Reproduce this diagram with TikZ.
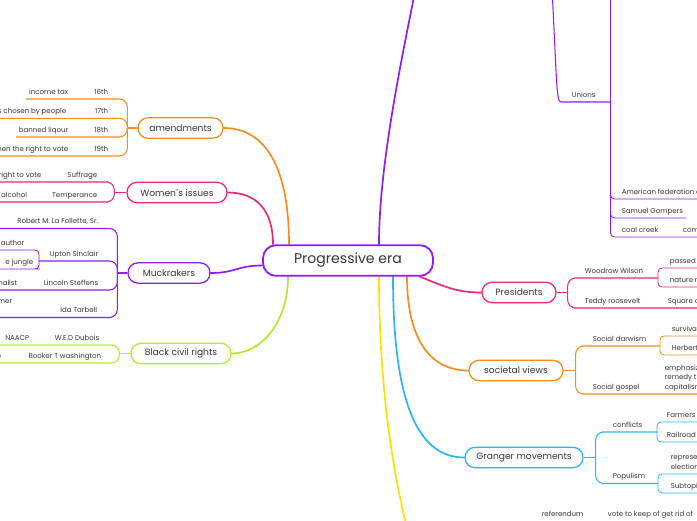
\documentclass[tikz,border=0pt]{standalone}
\usepackage{fontspec}
\setmainfont{Poppins}
\usetikzlibrary{positioning,backgrounds}
\definecolor{mmInk}   {HTML}{363636}
\definecolor{mmPurple}{HTML}{8E1CF5}
\definecolor{mmOrange}{HTML}{F98B1F}
\definecolor{mmPink}  {HTML}{EE2677}
\definecolor{mmLime}  {HTML}{B2EA2E}
\definecolor{mmCyan}  {HTML}{2BB5F2}
\definecolor{mmYellow}{HTML}{FFE100}

\begin{document}
\begin{tikzpicture}[x=0.5mm,y=-0.5mm,
      root/.style={draw=mmPurple,fill=white,line width=2.6pt,rounded corners=6.5mm,
                   minimum width=85mm,minimum height=15.3mm,text=mmInk,
                   font=\fontsize{20}{24}\selectfont},
      topic/.style={draw,fill=white,line width=1.8pt,rounded corners=5mm,
                    minimum height=10.2mm,text=mmInk,font=\fontsize{13}{16}\selectfont},
      leaf/.style={text=mmInk,font=\fontsize{10}{13.5}\selectfont,inner xsep=4pt,
                   inner ysep=2pt,text height=7pt,text depth=5pt,outer sep=0pt},
      conn/.style={line width=2.4pt,line cap=round},
      twig/.style={line width=1.5pt,rounded corners=4mm},
      sprig/.style={line width=1.2pt,rounded corners=2mm}]

    \useasboundingbox (0,0) rectangle (697,520);
    \clip (0,0) rectangle (697,520);
    \coordinate (ledge) at (-20,0);
    \coordinate (redge) at (720,0);

    % ROOT — the era in the middle
    \node[root] (root) at (348,260.5) {Progressive era};

    % AMENDMENTS — four of them, with what each one did
    \node[topic,draw=mmOrange,minimum width=42.5mm] (am) at (180.5,128) {amendments};
    \coordinate (am-j) at ([xshift=-5mm]am.west);
    \node[leaf,anchor=south east] (a16) at (111,99) {16th};
    \node[leaf,anchor=south east] (a17) at (111,118.3) {17th};
    \node[leaf,anchor=south east] (a18) at (111,137) {18th};
    \node[leaf,anchor=south east] (a19) at (111,156) {19th};
    \node[leaf,anchor=south east] (g16) at (71,99) {income tax};
    \node[leaf,anchor=south east] (g17) at (69,118.3) {rs chosen by people};
    \node[leaf,anchor=south east] (g18) at (71,137) {banned liqour};
    \node[leaf,anchor=south east] (g19) at (71,156) {men the right to vote};

    % WOMEN — two causes
    \node[topic,draw=mmPink,minimum width=50mm] (wi) at (177,192.5) {Women´s issues};
    \coordinate (wi-j) at ([xshift=-6mm]wi.west);
    \node[leaf,anchor=south east] (su) at (100,182) {Suffrage};
    \node[leaf,anchor=south east] (te) at (100,202) {Temperance};
    \node[leaf,anchor=south east] (rv) at (44,182) {right to vote};
    \node[leaf,anchor=south east] (al) at (30,202) {alcohol};

    % MUCKRAKERS — the writers
    \node[topic,draw=mmPurple,minimum width=41mm] (mu) at (169,273) {Muckrakers};
    \coordinate (mu-j) at ([xshift=-5mm]mu.west);
    \node[leaf,anchor=south east] (rf) at (101,228.5) {Robert M. La Follette, Sr.};
    \node[leaf,anchor=south east] (us) at (101,261) {Upton Sinclair};
    \node[leaf,anchor=south east] (ls) at (101,290) {Lincoln Steffens};
    \node[leaf,anchor=south east] (it) at (100,317.5) {Ida Tarbell};
    \coordinate (us-j) at (39,261);
    \node[leaf,anchor=south east] (au) at (27,250) {author};
    \node[leaf,anchor=south east] (jg) at (36,269) {e jungle};
    \node[leaf,anchor=south east] (jn) at (20,290) {nalist};
    \node[leaf,anchor=south east,text depth=18pt] (mr) at (15,317.5) {mer};

    % CIVIL RIGHTS
    \node[topic,draw=mmLime,minimum width=50mm] (bc) at (181,353.5) {Black civil rights};
    \coordinate (bc-j) at ([xshift=-5.5mm]bc.west);
    \node[leaf,anchor=south east] (du) at (102,345) {W.E.D Dubois};
    \node[leaf,anchor=south east] (bw) at (104,363) {Booker T washington};
    \node[leaf,anchor=south east] (na) at (32,345) {NAACP};
    \node[leaf,anchor=south east] (bx) at (4,363) {e};

    % UNIONS — hanging off a branch above the page
    \coordinate (lb-top) at (551,-30);
    \coordinate (lb-end) at (430,-80);
    \node[leaf,anchor=south west] (un) at (569,102) {Unions};
    \coordinate (un-j) at (610.5,102);
    \coordinate (un-top) at (610.5,-30);
    \node[leaf,anchor=south west] (af) at (619,199) {American federation o};
    \node[leaf,anchor=south west] (sg) at (619,218) {Samuel Gompers};
    \node[leaf,anchor=south west] (cc) at (619,237) {coal creek};
    \node[leaf,anchor=south west] (cm) at (680,237) {com};

    % PRESIDENTS
    \node[topic,draw=mmPink,minimum width=37mm] (pr) at (519,292.5) {Presidents};
    \coordinate (pr-j) at ([xshift=5.5mm]pr.east);
    \node[leaf,anchor=south west] (ww) at (582,278) {Woodrow Wilson};
    \node[leaf,anchor=south west] (tr) at (582,308) {Teddy roosevelt};
    \coordinate (ww-j) at (658,278);
    \node[leaf,anchor=south west] (pt) at (667,268) {passed t};
    \node[leaf,anchor=south west] (nm) at (667,287) {nature m};
    \node[leaf,anchor=south west] (sq) at (665,308) {Square d};

    % SOCIETAL VIEWS
    \node[topic,draw=mmOrange,minimum width=47mm] (sv) at (516,370.5) {societal views};
    \coordinate (sv-j) at ([xshift=6mm]sv.east);
    \node[leaf,anchor=south west] (sd) at (590,346) {Social darwism};
    \node[leaf,anchor=south west] (sp) at (590,394) {Social gospel};
    \coordinate (sd-j) at (660,346);
    \node[leaf,anchor=south west] (sf) at (669,336) {surviva};
    \node[leaf,anchor=south west] (hs) at (669,355) {Herbert};
    \node[leaf,anchor=south west,align=left] (em) at (662,394) {emphasiz\\remedy th\\capitalism};

    % GRANGER
    \node[topic,draw=mmCyan,minimum width=59mm] (gm) at (524,457.5) {Granger movements};
    \coordinate (gm-j) at ([xshift=6mm]gm.east);
    \node[leaf,anchor=south west] (cf) at (610,432) {conflicts};
    \node[leaf,anchor=south west] (po) at (610,483.5) {Populism};
    \coordinate (cf-j) at (657,432);
    \coordinate (po-j) at (658,483.5);
    \node[leaf,anchor=south west] (fa) at (664,422) {Farmers};
    \node[leaf,anchor=south west] (rr) at (664,442) {Railroad};
    \node[leaf,anchor=south west,align=left] (re) at (668,474) {represe\\election};
    \node[leaf,anchor=south west] (sb) at (668,493) {Subtopi};

    % the yellow branch runs off the bottom edge
    \coordinate (yl-end) at (430,600);
    \node[leaf,anchor=south west] (rd) at (539,521.5) {referendum};
    \node[leaf,anchor=south west] (vk) at (605,521.5) {vote to keep of get rid of};

    \begin{pgfonlayer}{background}
      \fill[white] (0,0) rectangle (697,520);
      % root to topics
      \draw[conn,mmOrange] ([xshift=-29.5mm]root.north) .. controls +(0,-80) and +(40,0) .. (am.east);
      \draw[conn,mmPink] ([xshift=-37.5mm]root.north) .. controls +(0,-35) and +(28,0) .. (wi.east);
      \draw[conn,mmPurple] ([yshift=-2.5mm]root.west) .. controls +(-25,0) and +(25,0) .. (mu.east);
      \draw[conn,mmLime] ([xshift=-30mm]root.south) .. controls +(0,45) and +(30,0) .. (bc.east);
      \draw[conn,mmPurple] ([xshift=15.5mm]root.north) .. controls +(0,-85) and +(-25,120) .. (lb-end);
      \draw[conn,mmPink] ([xshift=36mm]root.south) .. controls +(25,10) and +(-25,0) .. (pr.west);
      \draw[conn,mmOrange] ([xshift=29.5mm]root.south) .. controls +(0,60) and +(-40,0) .. (sv.west);
      \draw[conn,mmCyan] ([xshift=22.5mm]root.south) .. controls +(0,130) and +(-45,0) .. (gm.west);
      \draw[conn,mmYellow] ([xshift=15.5mm]root.south) .. controls +(0,150) and +(-25,-60) .. (yl-end);

      % amendments
      \draw[twig,mmOrange] (am.west) -- (am-j);
      \draw[twig,mmOrange] (am-j) |- (a16.south east) -- (g16.south west);
      \draw[twig,mmOrange] (am-j) |- (a18.south east) -- (g18.south west);
      \foreach \c in {a17,a19}
        \draw[twig,mmOrange] (am-j) |- (\c.south east) -- (\c.south -| ledge);

      % women
      \draw[twig,mmPink] (wi.west) -- (wi-j);
      \foreach \c in {su,te}
        \draw[twig,mmPink] (wi-j) |- (\c.south east) -- (\c.south -| ledge);

      % muckrakers
      \draw[twig,mmPurple] (mu.west) -- (mu-j);
      \draw[twig,mmPurple] (mu-j) |- (us.south east) -- (us-j);
      \foreach \c in {rf,ls,it}
        \draw[twig,mmPurple] (mu-j) |- (\c.south east) -- (\c.south -| ledge);
      \foreach \c in {au,jg}
        \draw[sprig,mmPurple] (us-j) |- (\c.south east) -- (\c.south -| ledge);

      % civil rights
      \draw[twig,mmLime] (bc.west) -- (bc-j);
      \foreach \c in {du,bw}
        \draw[twig,mmLime] (bc-j) |- (\c.south east) -- (\c.south -| ledge);

      % unions
      \draw[twig,mmPurple] (lb-top) .. controls (557,80) and (556,102) .. (un.south west) -- (un-j);
      \draw[sprig,mmPurple] (un-top) -- (un-j);
      \draw[sprig,mmPurple] (un-j) |- (sg.south west) -- (sg.south east);
      \foreach \c in {af,cc}
        \draw[sprig,mmPurple] (un-j) |- (\c.south west) -- (\c.south -| redge);

      % presidents
      \draw[twig,mmPink] (pr.east) -- (pr-j);
      \draw[twig,mmPink] (pr-j) |- (ww.south west) -- (ww-j);
      \draw[twig,mmPink] (pr-j) |- (tr.south west) -- (tr.south -| redge);
      \foreach \c in {pt,nm}
        \draw[sprig,mmPink] (ww-j) |- (\c.south west) -- (\c.south -| redge);

      % societal views
      \draw[twig,mmOrange] (sv.east) -- (sv-j);
      \draw[twig,mmOrange] (sv-j) |- (sd.south west) -- (sd-j);
      \draw[twig,mmOrange] (sv-j) |- (sp.south west) -- (sp.south -| redge);
      \foreach \c in {sf,hs}
        \draw[sprig,mmOrange] (sd-j) |- (\c.south west) -- (\c.south -| redge);

      % granger
      \draw[twig,mmCyan] (gm.east) -- (gm-j);
      \draw[twig,mmCyan] (gm-j) |- (cf.south west) -- (cf-j);
      \draw[twig,mmCyan] (gm-j) |- (po.south west) -- (po-j);
      \foreach \c in {fa,rr}
        \draw[sprig,mmCyan] (cf-j) |- (\c.south west) -- (\c.south -| redge);
      \foreach \c in {re,sb}
        \draw[sprig,mmCyan] (po-j) |- (\c.south west) -- (\c.south -| redge);
    \end{pgfonlayer}
  \end{tikzpicture}
\end{document}
